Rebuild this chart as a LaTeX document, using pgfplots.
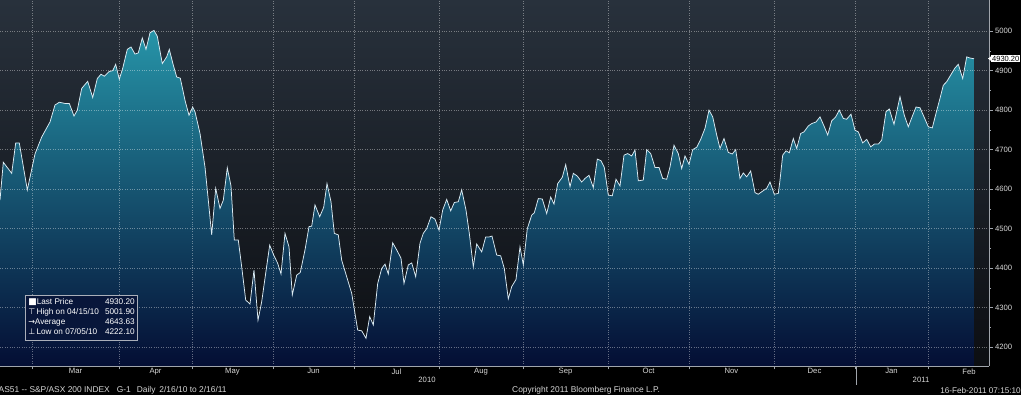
\documentclass[border=0pt]{standalone}
\usepackage{pgfplots}
\pgfplotsset{compat=1.18}
\usepackage{pgfplotstable}
\usepackage{fontspec}
\setmainfont{Liberation Sans}
\newfontfamily\sym{DejaVu Sans}

\definecolor{bgtop}{RGB}{40,49,60}
\definecolor{bgbot}{RGB}{12,14,18}
\definecolor{areatop}{RGB}{38,148,168}
\definecolor{areamid}{RGB}{16,84,125}
\definecolor{areabot}{RGB}{4,14,52}
\definecolor{linecol}{RGB}{220,236,244}
\definecolor{txt}{RGB}{215,215,215}
\definecolor{legfill}{RGB}{8,22,58}
\definecolor{legborder}{RGB}{170,175,185}
\definecolor{axcol}{RGB}{160,165,172}

% x: position along the trading-day axis (Feb 16 2010 .. Feb 16 2011), y: index level
\pgfplotstableread{
t price
0 4572
3.3 4668
11.7 4640
15.7 4717
19.3 4717
27.3 4598
35 4689
41.7 4732
50 4770
55 4813
59.3 4820
65 4817
69.3 4817
74 4785
77.3 4800
81.7 4855
87.7 4873
92.7 4832
97.3 4880
101 4891
104.3 4886
109.3 4898
112.7 4900
115.7 4916
119.3 4878
122.7 4906
127.3 4954
131 4960
135 4942
138.3 4945
142.3 4983
146 4954
150 4996
154 5002
157.3 4987
162.3 4918
166.7 4935
169.3 4954
173.3 4914
176.7 4884
180.3 4881
185 4825
189 4787
192.7 4808
195 4796
200 4741
205 4656
208.3 4572
211.7 4484
215.7 4602
220 4551
223.3 4572
227.3 4654
231 4608
234.3 4471
238.3 4471
241.7 4403
245.7 4319
250 4309
254 4395
258 4268
261.7 4315
265.7 4387
269.7 4458
273.7 4433
277.7 4412
281 4385
285 4488
289 4454
292.3 4332
296.7 4382
300.3 4389
305 4446
309 4505
311.7 4506
315 4560
319.7 4530
323.7 4554
327 4614
331 4568
334.3 4488
338.3 4484
341.7 4420
346.7 4378
351.7 4336
357.7 4243
361.7 4241
366 4222
369.7 4277
373.3 4256
377.7 4361
381.7 4399
385 4410
388.3 4385
392.7 4464
396.7 4446
401 4425
404 4361
408.3 4408
411.7 4413
415.7 4378
420 4463
423.3 4488
426.7 4500
431 4530
435 4524
439 4496
442.7 4547
446.7 4574
450.7 4545
454.3 4566
458.3 4568
461.7 4598
466 4547
469.3 4488
473.3 4403
476.7 4461
481.7 4441
485.7 4479
489.3 4479
492 4481
496.7 4433
500.7 4431
504.3 4399
508.3 4322
511.7 4353
516 4371
520 4454
523.3 4408
527.3 4500
531.7 4534
534.3 4540
538.3 4576
542.3 4575
546.7 4538
550.7 4580
554 4562
557.7 4614
562.3 4630
565.7 4662
570 4606
573.3 4640
577.3 4633
581.7 4618
585 4627
589 4635
593.3 4604
597.3 4676
601 4672
604.3 4655
608.3 4585
612.3 4583
616 4625
620 4608
624 4686
627.7 4690
631.7 4684
635 4699
638.3 4621
643.3 4623
646.7 4700
650.7 4690
655 4655
659 4655
662.7 4627
666.7 4625
670 4656
674 4711
678.3 4690
681.7 4652
685 4684
689 4663
692.7 4700
696.7 4706
700.7 4726
705 4754
709 4800
712.7 4783
716.7 4737
720 4703
724 4728
728.3 4693
732.3 4689
735.7 4700
740 4627
743.3 4641
746.7 4631
750.7 4646
755 4591
758.3 4587
762.7 4595
766.7 4602
770 4618
774.3 4587
778.3 4589
780 4623
782.7 4686
786 4697
789.3 4692
793.3 4728
796.7 4703
800.7 4741
804 4745
808.3 4760
811.7 4766
816 4770
820 4783
824.3 4758
827.7 4737
831.7 4773
835.7 4783
839.3 4800
843.3 4779
846.7 4777
851 4790
855 4749
858.3 4745
862.7 4717
866.7 4726
870.7 4707
874.3 4714
878.3 4714
881.7 4724
886 4796
889.3 4803
894 4764
900 4834
904.3 4787
908.3 4758
912.7 4787
916 4808
920 4806
924 4783
928.3 4758
932.3 4755
936 4792
940 4830
943.3 4863
946.7 4872
950.7 4889
955 4907
958.3 4916
962.7 4880
966.7 4935
970 4932
974 4930.2
}\pricedata

\begin{document}
\begin{tikzpicture}[x=1pt,y=1pt]
\useasboundingbox (0pt,0pt) rectangle (1021pt,395pt);
\fill[black] (0pt,0pt) rectangle (1021pt,395pt);
\begin{axis}[
  at={(0pt,29pt)}, anchor=south west,
  scale only axis, width=989pt, height=366pt,
  xmin=0, xmax=989, ymin=4152, ymax=5079,
  axis x line*=bottom, axis y line*=right,
  axis line style={axcol, line width=0.6pt},
  axis background/.style={top color=bgtop, bottom color=bgbot},
  axis on top,
  tick align=outside,
  major tick length=3.5pt, minor tick length=2pt,
  every tick/.style={axcol, line width=0.5pt},
  ytick={4200,4300,...,5000},
  minor ytick={4250,4350,...,4950},
  xtick={32,119,192,273,354,439,523,608,689,774,855,928},
  xticklabels={},
  extra x ticks={75.5,155.5,232.5,313.5,396.5,481,565.5,648.5,731.5,814.5,891.5,969},
  extra x tick labels={Mar,Apr,May,Jun,Jul,Aug,Sep,Oct,Nov,Dec,Jan,Feb},
  extra x tick style={grid=none, major tick length=0pt, tick label style={yshift=1pt}},
  grid=major,
  major grid style={white, opacity=0.38, dotted, line width=0.5pt},
  ticklabel style={font=\fontsize{7.7}{8}\selectfont, text=txt},
  yticklabel style={xshift=-1pt},
  /pgf/number format/assume math mode=true,
  /pgf/number format/1000 sep={},
  clip=true,
]
\addplot[draw=none, top color=areatop, middle color=areamid, bottom color=areabot] table[x=t, y=price] {\pricedata} \closedcycle;
\addplot[linecol, line width=0.75pt, mark=none] table[x=t, y=price] {\pricedata};
\end{axis}

% last price tag
\node[anchor=west, fill=white, text=black, inner xsep=1pt, inner ysep=0.6pt,
      font=\fontsize{7.5}{8}\selectfont] at (991pt,336.4pt) {4930.20};
\fill[white] (988pt,336.4pt) -- (991.5pt,339pt) -- (991.5pt,333.8pt) -- cycle;

% years and separator
\draw[axcol, line width=0.5pt] (856pt,29pt) -- (856pt,10pt);
\node[font=\fontsize{7.7}{8}\selectfont, text=txt] at (427pt,15pt) {2010};
\node[font=\fontsize{7.7}{8}\selectfont, text=txt] at (921pt,15pt) {2011};

% footer
\node[anchor=west, inner sep=0pt, font=\fontsize{8.4}{9}\selectfont, text=txt] at (-1.5pt,4.5pt)
  {AS51 -{}- S\&P/ASX 200 INDEX\hspace{7pt}G-1\hspace{6pt}Daily\hspace{4pt}2/16/10 to 2/16/11};
\node[anchor=west, inner sep=0pt, font=\fontsize{8.4}{9}\selectfont, text=txt] at (512pt,4.5pt)
  {Copyright 2011 Bloomberg Finance L.P.};
\node[anchor=east, inner sep=0pt, font=\fontsize{8.2}{9}\selectfont, text=txt] at (1021pt,4.5pt)
  {16-Feb-2011 07:15:10};

% legend box
\node[anchor=north west, draw=legborder, line width=0.5pt, fill=legfill, inner xsep=3pt, inner ysep=2.8pt,
      font=\fontsize{8.2}{9.8}\selectfont, text=white] at (25pt,100pt) {%
  \renewcommand{\arraystretch}{1}%
  \begin{tabular}{@{}l@{\hspace{6pt}}r@{}}
  {\sym\fontsize{9}{8}\selectfont ■}Last Price & 4930.20\\
  {\sym\fontsize{8}{8}\selectfont ⊤}\,High on 04/15/10 & 5001.90\\
  {\sym\fontsize{8}{8}\selectfont →}Average & 4643.63\\
  {\sym\fontsize{8}{8}\selectfont ⊥}\,Low on 07/05/10 & 4222.10
  \end{tabular}};
\end{tikzpicture}
\end{document}
